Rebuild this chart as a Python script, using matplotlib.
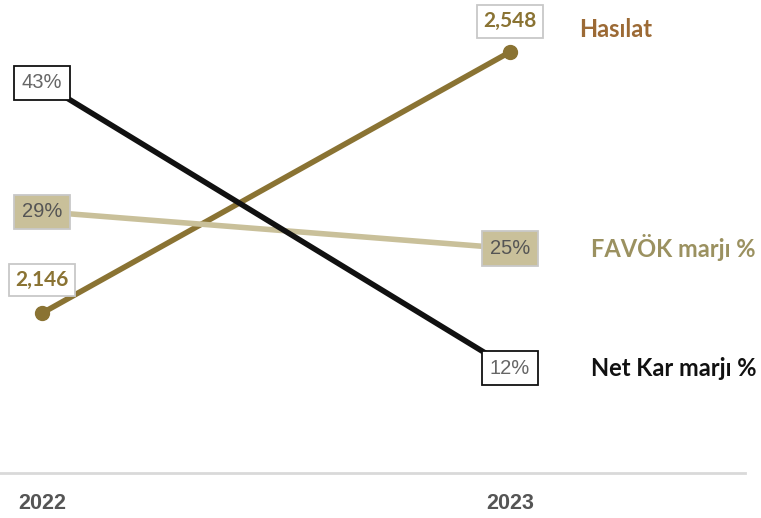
import matplotlib
matplotlib.use("Agg")
import matplotlib.pyplot as plt
from matplotlib import font_manager

years = [2022, 2023]
year_labels = ["2022", "2023"]
hasilat = [2146, 2548]
favok_marji = [29, 25]
net_kar_marji = [43, 12]

names = {"hasilat": "Hasılat", "favok": "FAVÖK marjı %", "netkar": "Net Kar marjı %"}

c_hasilat = "#8a7333"
c_hasilat_lbl = "#9c6a35"
c_favok = "#c9c09a"
c_favok_lbl = "#9b9160"
c_netkar = "#111111"

avail = {f.name for f in font_manager.fontManager.ttflist}
narrow = "Liberation Sans Narrow" if "Liberation Sans Narrow" in avail else "Liberation Sans"
label_font = "Lato"
num_font = "Liberation Sans"

fig = plt.figure(figsize=(7.61, 5.18), dpi=100)
ax = fig.add_axes([0, 45 / 518, 1, 1 - 45 / 518])
ax2 = ax.twinx()

xlim = (2022 - 42 / 468, 2023 + (761 - 510) / 468)
for a in (ax, ax2):
    a.set_xlim(*xlim)
    a.set_xticks([])
    a.set_yticks([])
    for s in a.spines.values():
        s.set_visible(False)
    a.patch.set_visible(False)

ax.set_ylim(1900, 2628)
ax2.set_ylim(0.6, 52.0)

# baseline
ax.axhline(1900, xmin=0, xmax=745 / 761, color="#d9d9d9", lw=2, clip_on=False)

# percentage series
ax2.plot(years, favok_marji, color=c_favok, lw=4, solid_capstyle="butt", zorder=2)
ax2.plot(years, net_kar_marji, color=c_netkar, lw=4, solid_capstyle="butt", zorder=2)

# revenue series
ax.plot(years, hasilat, color=c_hasilat, lw=4, marker="o", ms=10,
        solid_capstyle="butt", zorder=3)

# value labels on percentage series
for x, v in zip(years, net_kar_marji):
    ax2.annotate(f"{v}%", (x, v), ha="center", va="center", fontsize=14.5,
                 family=num_font, color="#666666", zorder=5,
                 bbox=dict(boxstyle="square,pad=0.38", fc="white", ec="#111111", lw=1.3))
for x, v in zip(years, favok_marji):
    ax2.annotate(f"{v}%", (x, v), ha="center", va="center", fontsize=14.5,
                 family=num_font, color="#555555", zorder=5,
                 bbox=dict(boxstyle="square,pad=0.38", fc=c_favok, ec="#c8c8c8", lw=1.3))

# value labels on revenue series
for x, v, dy in zip(years, hasilat, (24, 22)):
    ax.annotate(f"{v:,}", (x, v), xytext=(0, dy), textcoords="offset points",
                ha="center", va="center", fontsize=15, fontweight="bold",
                family=label_font, color=c_hasilat, zorder=6,
                bbox=dict(boxstyle="square,pad=0.3", fc="white", ec="#c8c8c8", lw=1.3))

# series names on the right
ax.annotate(names["hasilat"], (years[1], hasilat[1]), xytext=(50, 16),
            textcoords="offset points", ha="left", va="center",
            fontsize=17, fontweight="bold", family=label_font, color=c_hasilat_lbl)
ax2.annotate(names["favok"], (years[1], favok_marji[1]), xytext=(58, 1),
             textcoords="offset points", ha="left", va="center",
             fontsize=17, fontweight="bold", family=label_font, color=c_favok_lbl)
ax2.annotate(names["netkar"], (years[1], net_kar_marji[1]), xytext=(58, 0),
             textcoords="offset points", ha="left", va="center",
             fontsize=17, fontweight="bold", family=label_font, color=c_netkar)

# year labels below the baseline
for x, t in zip(years, year_labels):
    ax.annotate(t, (x, 1900), xytext=(0, -22), textcoords="offset points",
                ha="center", va="center", fontsize=15.5, fontweight="bold",
                family=narrow, color="#555555", annotation_clip=False)

fig.savefig("out.png", dpi=100)
